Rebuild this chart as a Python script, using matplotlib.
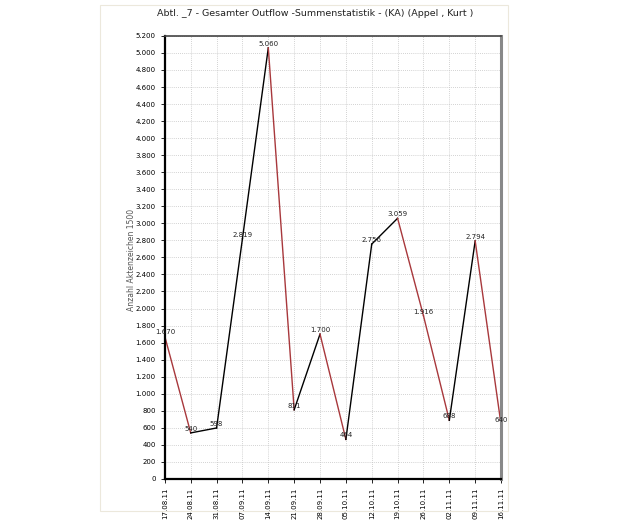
import matplotlib
matplotlib.use("Agg")
import matplotlib.pyplot as plt
from matplotlib.ticker import FuncFormatter, MultipleLocator
from matplotlib.patches import Rectangle

# weekly totals
dates = ["17.08.11", "24.08.11", "31.08.11", "07.09.11", "14.09.11", "21.09.11", "28.09.11",
         "05.10.11", "12.10.11", "19.10.11", "26.10.11", "02.11.11", "09.11.11", "16.11.11"]
values = [1670, 540, 598, 2819, 5060, 811, 1700, 464, 2756, 3059, 1916, 688, 2794, 640]

TITLE = "Abtl. _7 - Gesamter Outflow -Summenstatistik - (KA) (Appel , Kurt )"
YLABEL = "Anzahl Aktenzeichen 1500"

RED = "#a8383c"


def de_fmt(v, pos=None):
    return f"{int(v):,}".replace(",", ".")


fig = plt.figure(figsize=(6.44, 5.2), dpi=100)
ax = fig.add_axes([0.256, 0.079, 0.522, 0.852])

x = list(range(len(dates)))

# rising segments black, falling ones red
for i in range(len(values) - 1):
    col = "black" if values[i + 1] >= values[i] else RED
    ax.plot(x[i:i + 2], values[i:i + 2], color=col, lw=1.0)

for xi, v in zip(x, values):
    ax.annotate(de_fmt(v), (xi, v), xytext=(0, 3), textcoords="offset points",
                ha="center", va="center", fontsize=5, color="#222222")

ax.set_xlim(0, len(dates) - 1)
ax.set_ylim(0, 5200)
ax.yaxis.set_major_locator(MultipleLocator(200))
ax.yaxis.set_major_formatter(FuncFormatter(de_fmt))
ax.set_xticks(x)
ax.set_xticklabels(dates, rotation=90, fontsize=5)
ax.tick_params(axis="y", labelsize=5, length=3, width=0.6)
ax.tick_params(axis="x", length=3, width=0.6)

ax.grid(True, color="#c4c4c4", linestyle=(0, (1, 1.5)), lw=0.6)

ax.spines["left"].set_linewidth(1.6)
ax.spines["bottom"].set_linewidth(1.6)
ax.spines["top"].set_linewidth(1.2)
ax.spines["top"].set_color("#444444")
ax.spines["right"].set_linewidth(2.2)
ax.spines["right"].set_color("#888888")

fig.text(0.49, 0.975, TITLE, ha="center", va="center", fontsize=6.8, color="#222222")
fig.text(0.204, 0.5, YLABEL, rotation=90, ha="center", va="center", fontsize=5.5, color="#555555")

# faint panel frame
fig.patches.append(Rectangle((0.155, 0.017), 0.634, 0.973, transform=fig.transFigure,
                             fill=False, edgecolor="#ece8dc", lw=0.8))

fig.savefig("out.png", dpi=100)
